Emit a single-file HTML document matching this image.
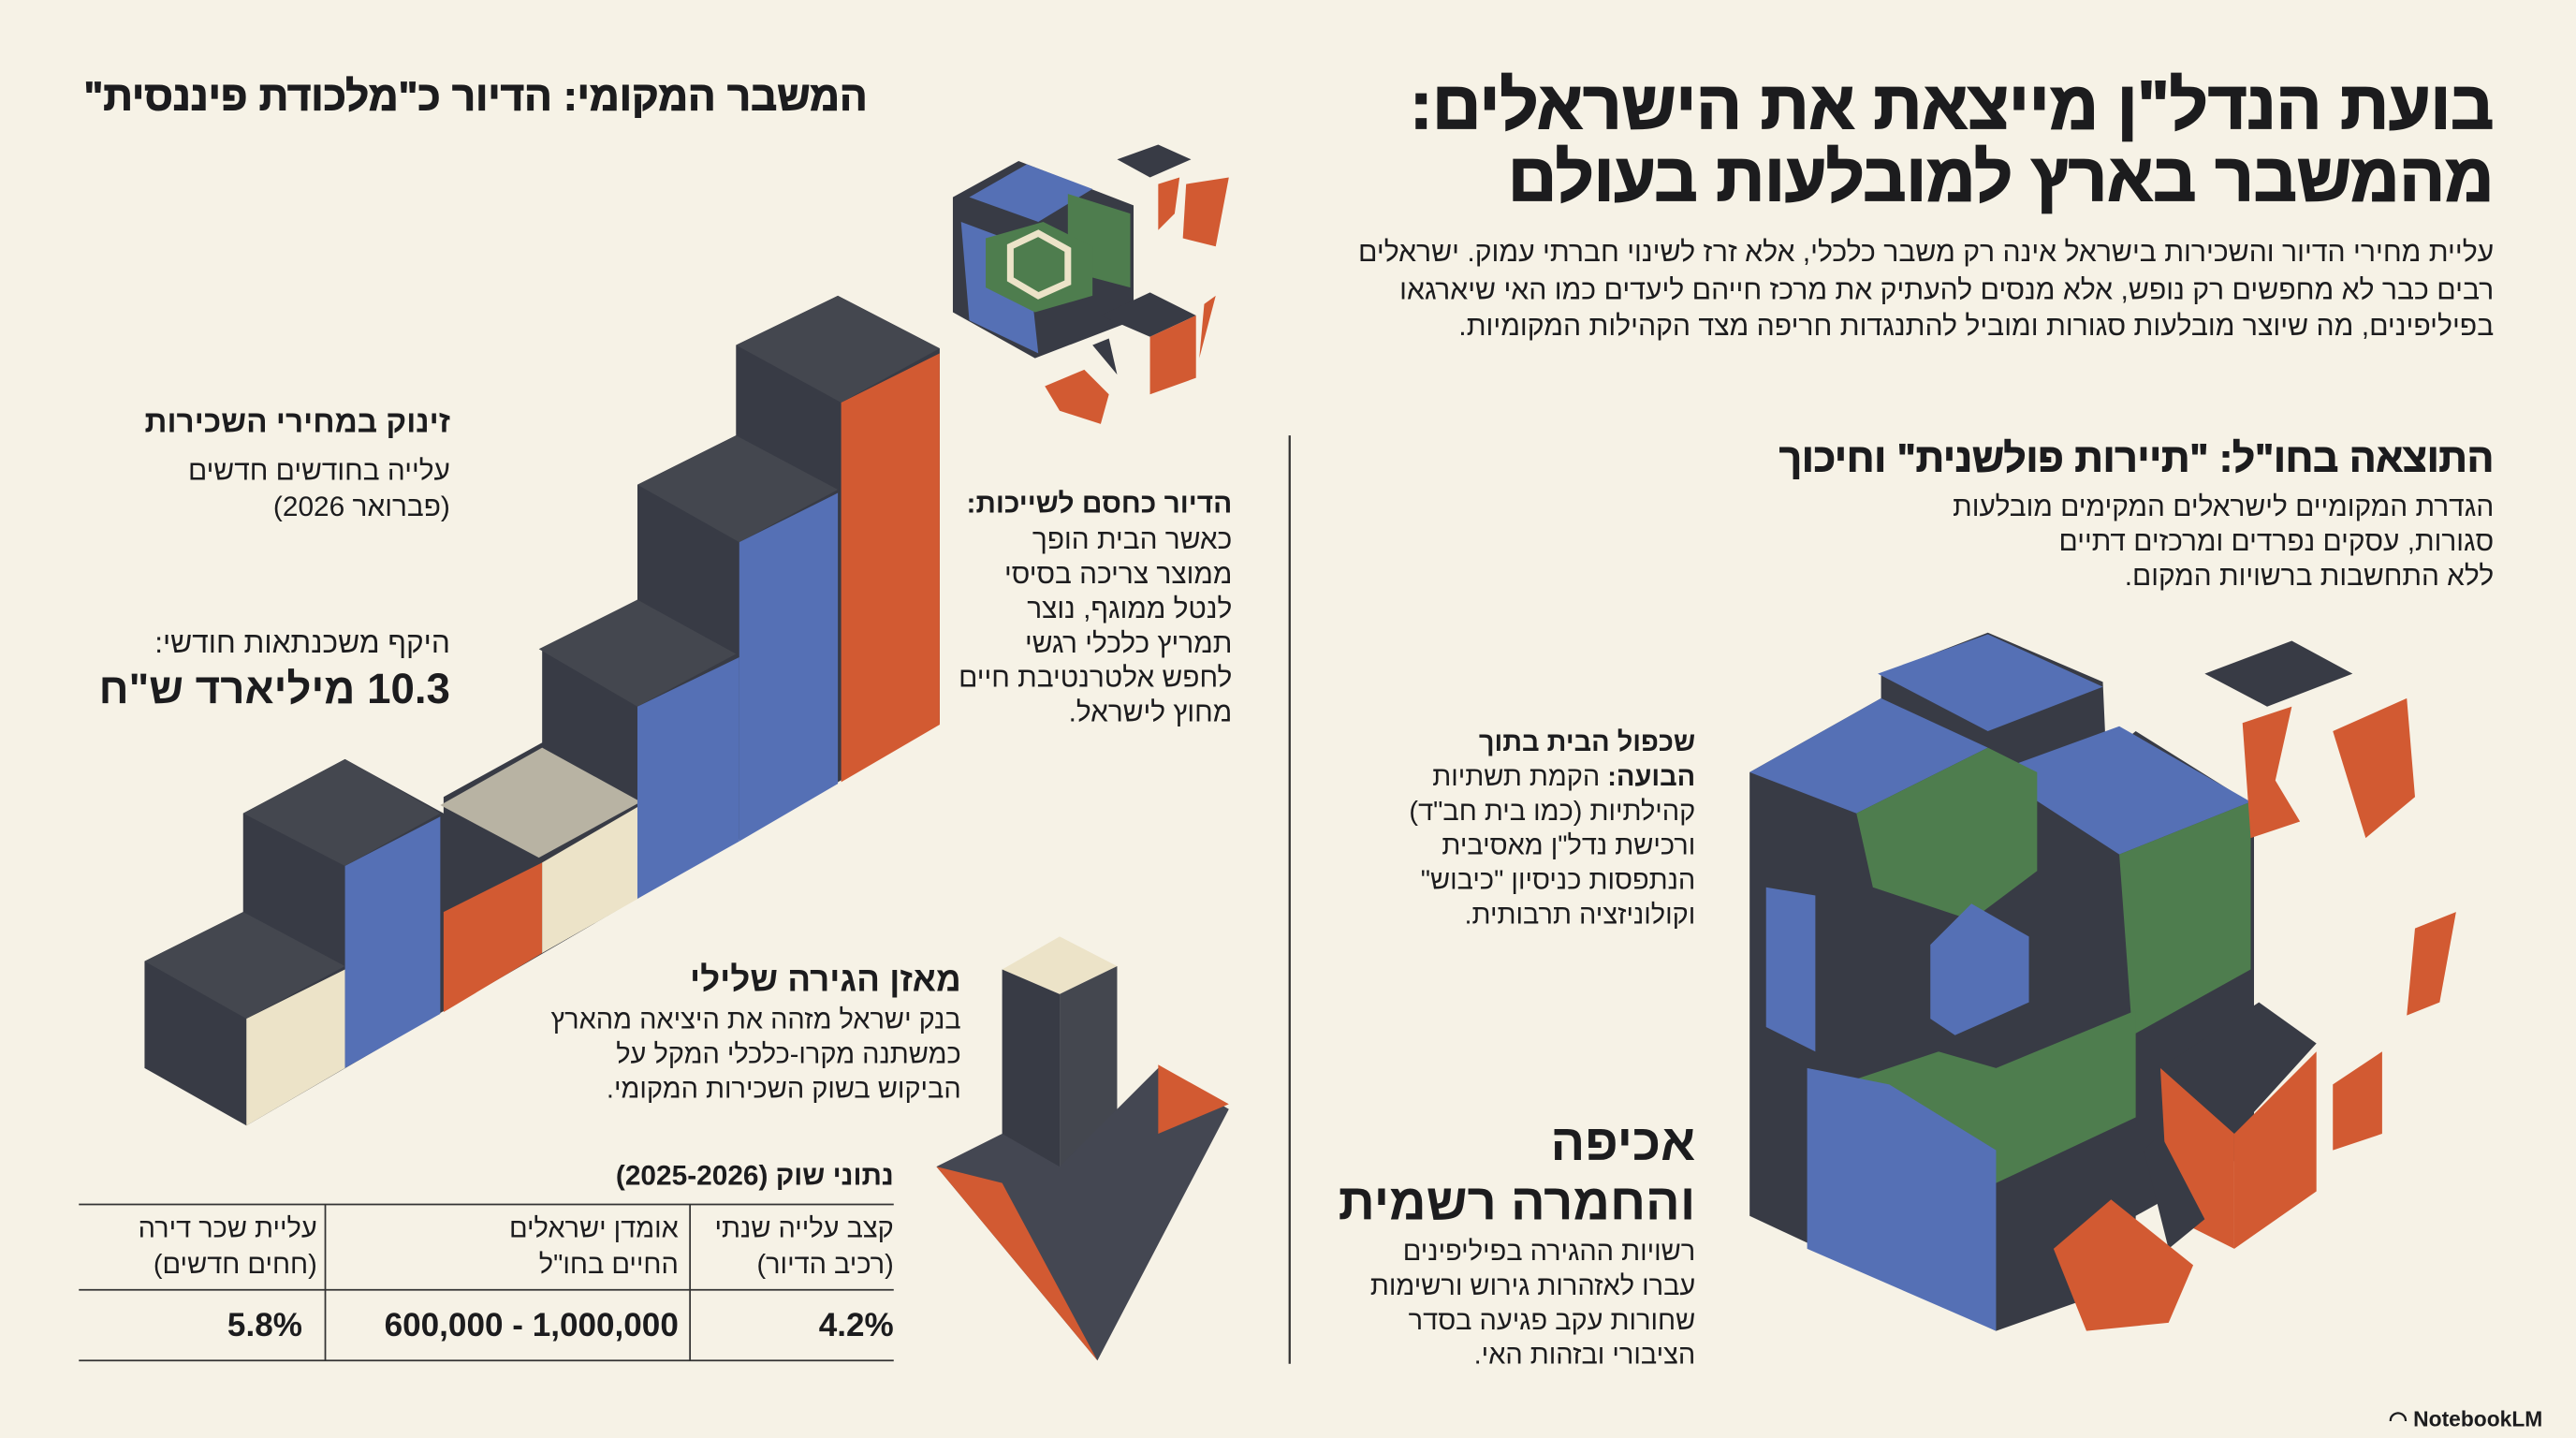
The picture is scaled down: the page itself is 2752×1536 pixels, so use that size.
<!DOCTYPE html>
<html><head><meta charset="utf-8"><style>
html,body{margin:0;padding:0;background:#f6f2e6;}
#wrap{position:relative;width:2752px;height:1536px;overflow:hidden;background:#f6f2e6;}
#s{position:absolute;left:0;top:0;width:1568px;height:875px;transform:scale(1.7551);transform-origin:0 0;font-family:"Liberation Sans","Noto Sans CJK SC",sans-serif;color:#1c1c1e;}
.r{position:absolute;direction:rtl;text-align:right;white-space:nowrap;line-height:1;}
.b{font-weight:bold;}
.h{font-weight:bold;-webkit-text-stroke:1px #1c1c1e;}
svg{position:absolute;left:0;top:0;}
</style></head><body><div id="wrap"><div id="s">
<svg width="1568" height="875" viewBox="0 0 1568 875">
<g>
<polygon points="88,650 88,585 148,555 148,495 210,462 270,495 270,485 330,452 330,395 388,365 388,295 448,265 448,210 510,180 572,212 572,440 150,685" fill="#383b45"/>
<polygon points="88,585 148,555 210,588 150,620" fill="#44474f"/>
<polygon points="148,495 210,462 268,495 210,527" fill="#44474f"/>
<polygon points="268,490 330,455 390,488 328,522" fill="#b8b3a3"/>
<polygon points="328,395 388,365 448,398 388,430" fill="#44474f"/>
<polygon points="388,295 448,265 510,298 450,330" fill="#44474f"/>
<polygon points="448,210 510,180 572,212 512,245" fill="#44474f"/>
<polygon points="150,620 210,590 210,650 150,685" fill="#ece3c8"/>
<polygon points="210,527 268,497 268,617 210,650" fill="#5570b5"/>
<polygon points="270,555 330,525 330,580 270,616" fill="#d25a32"/>
<polygon points="330,525 390,490 390,546 330,580" fill="#ece3c8"/>
<polygon points="388,430 450,400 450,512 388,547" fill="#5570b5"/>
<polygon points="450,330 510,300 510,477 450,512" fill="#5570b5"/>
<polygon points="512,245 572,215 572,441 512,476" fill="#d25a32"/>
</g>
<g>
<polygon points="580,120 620,98 690,125 690,195 630,218 580,190" fill="#383b45"/>
<polygon points="590,120 625,100 665,115 632,135" fill="#5570b5"/>
<polygon points="650,118 688,130 688,175 650,165" fill="#4e7d4e"/>
<polygon points="585,135 625,150 632,215 590,195" fill="#5570b5"/>
<polygon points="600,145 635,135 665,150 665,180 630,190 600,175" fill="#4e7d4e"/>
<polygon points="615,150 632,142 650,152 650,172 632,180 615,170" fill="none" stroke="#ece3c8" stroke-width="4"/>
<polygon points="680,97 705,88 725,97 700,108" fill="#383b45"/>
<polygon points="705,112 718,108 715,130 705,140" fill="#d25a32"/>
<polygon points="722,112 748,108 740,150 720,145" fill="#d25a32"/>
<polygon points="670,192 700,178 728,192 700,205" fill="#383b45"/>
<polygon points="700,205 728,192 728,230 700,240" fill="#d25a32"/>
<polygon points="733,185 740,180 730,218" fill="#d25a32"/>
<polygon points="665,210 675,206 680,228" fill="#383b45"/>
<polygon points="636,235 660,225 675,240 670,258 645,250" fill="#d25a32"/>
</g>
<g>
<polygon points="610,590 645,570 680,588 645,605" fill="#ece3c8"/>
<polygon points="610,590 645,605 645,760 610,745" fill="#383b45"/>
<polygon points="645,605 680,588 680,735 645,752" fill="#44474f"/>
<polygon points="570,710 610,690 645,710 705,650 748,675 668,828" fill="#444752"/>
<polygon points="570,710 610,720 668,828" fill="#d25a32"/>
<polygon points="705,648 748,672 705,690" fill="#d25a32"/>
</g>
<g>
<polygon points="1065,470 1145,425 1145,410 1210,385 1280,415 1282,460 1300,445 1372,490 1372,700 1300,740 1300,780 1215,810 1065,740" fill="#383b45"/>
<polygon points="1065,470 1145,425 1210,455 1130,495" fill="#5570b5"/>
<polygon points="1143,410 1210,386 1280,418 1210,445" fill="#5570b5"/>
<polygon points="1213,470 1290,442 1370,488 1290,520" fill="#5570b5"/>
<polygon points="1130,495 1210,455 1240,470 1240,530 1200,560 1140,540" fill="#4e7d4e"/>
<polygon points="1290,520 1370,488 1370,590 1298,630" fill="#4e7d4e"/>
<polygon points="1075,540 1105,545 1105,640 1075,625" fill="#5570b5"/>
<polygon points="1120,660 1180,640 1215,650 1300,615 1300,680 1215,720 1140,690" fill="#4e7d4e"/>
<polygon points="1100,650 1150,660 1215,700 1215,810 1100,760" fill="#5570b5"/>
<polygon points="1175,575 1200,550 1235,570 1235,610 1190,630 1175,620" fill="#5570b5"/>
<polygon points="1342,410 1395,390 1432,410 1380,430" fill="#383b45"/>
<polygon points="1365,440 1395,430 1385,475 1400,500 1370,510" fill="#d25a32"/>
<polygon points="1420,445 1465,425 1470,485 1440,510" fill="#d25a32"/>
<polygon points="1470,565 1495,555 1485,610 1465,618" fill="#d25a32"/>
<polygon points="1420,660 1450,640 1450,690 1420,700" fill="#d25a32"/>
<polygon points="1315,650 1375,610 1410,635 1360,690" fill="#383b45"/>
<polygon points="1315,650 1360,690 1360,760 1320,740" fill="#d25a32"/>
<polygon points="1360,690 1410,640 1410,725 1360,760" fill="#d25a32"/>
<polygon points="1305,700 1315,690 1342,742 1320,760" fill="#383b45"/>
<polygon points="1250,760 1285,730 1335,770 1320,805 1270,810" fill="#d25a32"/>
</g>
<line x1="785" y1="265" x2="785" y2="830" stroke="#333" stroke-width="1.3"/>
<line x1="48" y1="733" x2="544" y2="733" stroke="#333" stroke-width="1"/>
<line x1="48" y1="785" x2="544" y2="785" stroke="#333" stroke-width="1"/>
<line x1="48" y1="828" x2="544" y2="828" stroke="#333" stroke-width="1"/>
<line x1="198" y1="733" x2="198" y2="828" stroke="#333" stroke-width="1"/>
<line x1="420" y1="733" x2="420" y2="828" stroke="#333" stroke-width="1"/>
</svg>

<div class="r h" style="right:50px;top:44px;font-size:41px;">בועת הנדל"ן מייצאת את הישראלים:</div>
<div class="r h" style="right:50px;top:88px;font-size:41px;">מהמשבר בארץ למובלעות בעולם</div>
<div class="r" style="right:50px;top:145px;font-size:17.2px;">עליית מחירי הדיור והשכירות בישראל אינה רק משבר כלכלי, אלא זרז לשינוי חברתי עמוק. ישראלים</div>
<div class="r" style="right:50px;top:168px;font-size:17.2px;">רבים כבר לא מחפשים רק נופש, אלא מנסים להעתיק את מרכז חייהם ליעדים כמו האי שיארגאו</div>
<div class="r" style="right:50px;top:190px;font-size:17.2px;">בפיליפינים, מה שיוצר מובלעות סגורות ומוביל להתנגדות חריפה מצד הקהילות המקומיות.</div>

<div class="r h" style="right:50px;top:268px;font-size:24px;-webkit-text-stroke:0.6px #1c1c1e;">התוצאה בחו"ל: "תיירות פולשנית" וחיכוך</div>
<div class="r" style="right:50px;top:300px;font-size:17px;">הגדרת המקומיים לישראלים המקימים מובלעות</div>
<div class="r" style="right:50px;top:321px;font-size:17px;">סגורות, עסקים נפרדים ומרכזים דתיים</div>
<div class="r" style="right:50px;top:342px;font-size:17px;">ללא התחשבות ברשויות המקום.</div>

<div class="r h" style="right:1040px;top:47px;font-size:25px;-webkit-text-stroke:0.6px #1c1c1e;">המשבר המקומי: הדיור כ"מלכודת פיננסית"</div>

<div class="r b" style="right:1294px;top:248px;font-size:19px;">זינוק במחירי השכירות</div>
<div class="r" style="right:1294px;top:278px;font-size:17px;">עלייה בחודשים חדשים</div>
<div class="r" style="right:1294px;top:300px;font-size:17px;">(פברואר 2026)</div>
<div class="r" style="right:1294px;top:382px;font-size:18px;">היקף משכנתאות חודשי:</div>
<div class="r b" style="right:1294px;top:406px;font-size:26px;">10.3 מיליארד ש"ח</div>

<div class="r b" style="right:818px;top:298px;font-size:17px;">הדיור כחסם לשייכות:</div>
<div class="r" style="right:818px;top:320px;font-size:17px;">כאשר הבית הופך</div>
<div class="r" style="right:818px;top:341px;font-size:17px;">ממוצר צריכה בסיסי</div>
<div class="r" style="right:818px;top:362px;font-size:17px;">לנטל ממוגף, נוצר</div>
<div class="r" style="right:818px;top:383px;font-size:17px;">תמריץ כלכלי רגשי</div>
<div class="r" style="right:818px;top:404px;font-size:17px;">לחפש אלטרנטיבת חיים</div>
<div class="r" style="right:818px;top:425px;font-size:17px;">מחוץ לישראל.</div>

<div class="r b" style="right:983px;top:586px;font-size:21px;">מאזן הגירה שלילי</div>
<div class="r" style="right:983px;top:613px;font-size:16.5px;">בנק ישראל מזהה את היציאה מהארץ</div>
<div class="r" style="right:983px;top:634px;font-size:16.5px;">כמשתנה מקרו-כלכלי המקל על</div>
<div class="r" style="right:983px;top:655px;font-size:16.5px;">הביקוש בשוק השכירות המקומי.</div>

<div class="r b" style="right:1024px;top:707px;font-size:17px;">נתוני שוק (2025-2026)</div>
<div class="r" style="right:1024px;top:740px;font-size:16.5px;">קצב עלייה שנתי</div>
<div class="r" style="right:1024px;top:762px;font-size:16.5px;">(רכיב הדיור)</div>
<div class="r" style="right:1155px;top:740px;font-size:16.5px;">אומדן ישראלים</div>
<div class="r" style="right:1155px;top:762px;font-size:16.5px;">החיים בחו"ל</div>
<div class="r" style="right:1375px;top:740px;font-size:16.5px;">עליית שכר דירה</div>
<div class="r" style="right:1375px;top:762px;font-size:16.5px;">(חחים חדשים)</div>
<div class="r b" style="right:1024px;top:797px;font-size:20px;">4.2%</div>
<div class="r b" style="right:1155px;top:797px;font-size:20px;direction:ltr;">600,000 - 1,000,000</div>
<div class="r b" style="right:1384px;top:797px;font-size:20px;">5.8%</div>

<div class="r b" style="right:536px;top:444px;font-size:16.5px;">שכפול הבית בתוך</div>
<div class="r" style="right:536px;top:465px;font-size:16.5px;"><b>הבועה:</b> הקמת תשתיות</div>
<div class="r" style="right:536px;top:486px;font-size:16.5px;">קהילתיות (כמו בית חב"ד)</div>
<div class="r" style="right:536px;top:507px;font-size:16.5px;">ורכישת נדל"ן מאסיבית</div>
<div class="r" style="right:536px;top:528px;font-size:16.5px;">הנתפסות כניסיון "כיבוש"</div>
<div class="r" style="right:536px;top:549px;font-size:16.5px;">וקולוניזציה תרבותית.</div>

<div class="r b" style="right:536px;top:680px;font-size:31px;">אכיפה</div>
<div class="r b" style="right:536px;top:716px;font-size:31px;">והחמרה רשמית</div>
<div class="r" style="right:536px;top:754px;font-size:16.5px;">רשויות ההגירה בפיליפינים</div>
<div class="r" style="right:536px;top:775px;font-size:16.5px;">עברו לאזהרות גירוש ורשימות</div>
<div class="r" style="right:536px;top:796px;font-size:16.5px;">שחורות עקב פגיעה בסדר</div>
<div class="r" style="right:536px;top:817px;font-size:16.5px;">הציבורי ובזהות האי.</div>

<div style="position:absolute;left:1454px;top:856px;font-size:13px;font-weight:bold;white-space:nowrap;">◠ NotebookLM</div>
</div></div></body></html>
